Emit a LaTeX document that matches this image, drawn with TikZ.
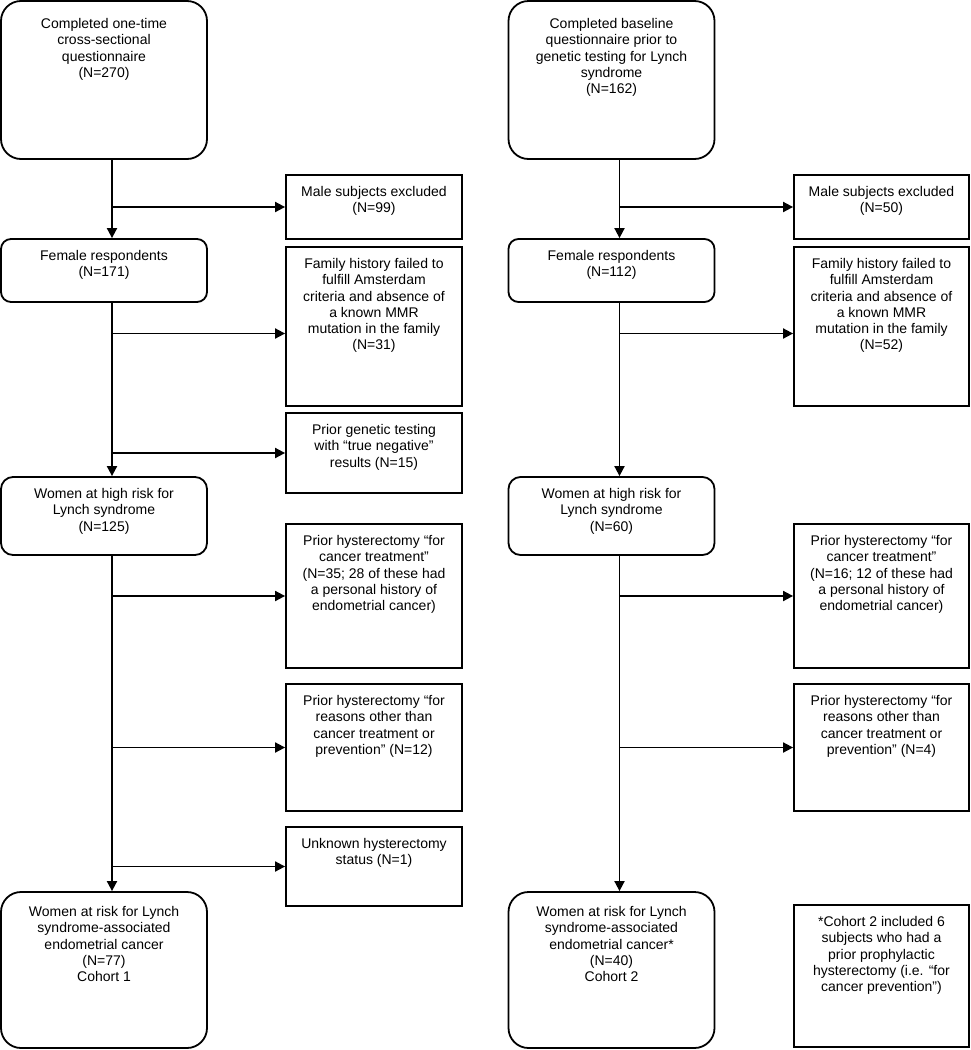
\documentclass[tikz,border=0pt]{standalone}
\usepackage{fontspec}
\setmainfont{Liberation Sans}
\usepackage{tikz}
\usetikzlibrary{arrows.meta,positioning}

\tikzset{
  stage/.style={draw, line width=1.8pt, rounded corners=#1, inner sep=0pt},
  side/.style={draw, line width=1.8pt, inner sep=0pt},
  boxtext/.style={anchor=north, align=center, inner sep=0pt, yshift=-12pt,
    font=\fontsize{14}{16.3}\selectfont},
  flow/.style={line width=1.8pt, -{Triangle[length=10pt,width=10pt]}},
}

\begin{document}
\begin{tikzpicture}[x=1pt,y=-1pt]
  \useasboundingbox (0,0) rectangle (970,1050);
  % cohort 1 (left)
  \node[stage=20pt, minimum width=206pt, minimum height=158pt,
    label={[boxtext,yshift=-6pt]north:Completed one-time\\cross-sectional\\questionnaire\\(N=270)}] (q1) at (104,80) {};
  \node[stage=10pt, minimum width=206pt, minimum height=63pt,
    label={[boxtext]north:Female respondents\\(N=171)}] (fem1) at (104,270.5) {};
  \node[stage=12pt, minimum width=206pt, minimum height=78pt,
    label={[boxtext]north:Women at high risk for\\Lynch syndrome\\(N=125)}] (high1) at (104,516) {};
  \node[stage=20pt, minimum width=206pt, minimum height=156pt,
    label={[boxtext,yshift=-3pt]north:Women at risk for Lynch\\syndrome-associated\\endometrial cancer\\(N=77)\\Cohort 1}] (coh1) at (104,970) {};
  % exclusions, cohort 1
  \node[side, minimum width=176pt, minimum height=64pt,
    label={[boxtext]north:Male subjects excluded\\(N=99)}] (male1) at (374,207) {};
  \node[side, minimum width=176pt, minimum height=159pt,
    label={[boxtext]north:Family history failed to\\fulfill Amsterdam\\criteria and absence of\\a known MMR\\mutation in the family\\(N=31)}] (fam1) at (374,326.5) {};
  \node[side, minimum width=176pt, minimum height=80pt,
    label={[boxtext]north:Prior genetic testing\\with “true negative”\\results (N=15)}] (gen1) at (374,453) {};
  \node[side, minimum width=176pt, minimum height=144pt,
    label={[boxtext]north:Prior hysterectomy “for\\cancer treatment”\\(N=35; 28 of these had\\a personal history of\\endometrial cancer)}] (ctx1) at (374,596) {};
  \node[side, minimum width=176pt, minimum height=127pt,
    label={[boxtext]north:Prior hysterectomy “for\\reasons other than\\cancer treatment or\\prevention” (N=12)}] (oth1) at (374,747.5) {};
  \node[side, minimum width=176pt, minimum height=79pt,
    label={[boxtext]north:Unknown hysterectomy\\status (N=1)}] (unk1) at (374,866.5) {};

  % cohort 2 (right)
  \node[stage=20pt, minimum width=206pt, minimum height=158pt,
    label={[boxtext,yshift=-6pt]north:Completed baseline\\questionnaire prior to\\genetic testing for Lynch\\syndrome\\(N=162)}] (q2) at (611.5,80) {};
  \node[stage=10pt, minimum width=206pt, minimum height=63pt,
    label={[boxtext]north:Female respondents\\(N=112)}] (fem2) at (611.5,270.5) {};
  \node[stage=12pt, minimum width=206pt, minimum height=78pt,
    label={[boxtext]north:Women at high risk for\\Lynch syndrome\\(N=60)}] (high2) at (611.5,516) {};
  \node[stage=20pt, minimum width=206pt, minimum height=156pt,
    label={[boxtext,yshift=-3pt]north:Women at risk for Lynch\\syndrome-associated\\endometrial cancer*\\(N=40)\\Cohort 2}] (coh2) at (611.5,970) {};
  % exclusions, cohort 2
  \node[side, minimum width=175pt, minimum height=64pt,
    label={[boxtext]north:Male subjects excluded\\(N=50)}] (male2) at (881.5,207) {};
  \node[side, minimum width=175pt, minimum height=159pt,
    label={[boxtext]north:Family history failed to\\fulfill Amsterdam\\criteria and absence of\\a known MMR\\mutation in the family\\(N=52)}] (fam2) at (881.5,326.5) {};
  \node[side, minimum width=175pt, minimum height=144pt,
    label={[boxtext]north:Prior hysterectomy “for\\cancer treatment”\\(N=16; 12 of these had\\a personal history of\\endometrial cancer)}] (ctx2) at (881.5,596) {};
  \node[side, minimum width=175pt, minimum height=127pt,
    label={[boxtext]north:Prior hysterectomy “for\\reasons other than\\cancer treatment or\\prevention” (N=4)}] (oth2) at (881.5,747.5) {};
  \node[side, minimum width=175pt, minimum height=142pt,
    label={[boxtext]north:*Cohort 2 included 6\\subjects who had a\\prior prophylactic\\hysterectomy (i.e. “for\\cancer prevention”)}] (note2) at (881.5,976) {};

  % trunks
  \coordinate (t1) at ([xshift=8pt]q1.south);
  \coordinate (t2) at ([xshift=8pt]q2.south);
  \coordinate (f1) at ([yshift=-7pt]fam1.west);
  \coordinate (f2) at ([yshift=-7pt]fam2.west);
  \draw[flow] (t1) -- (t1 |- fem1.north);
  \draw[flow] (t1 |- fem1.south) -- (t1 |- high1.north);
  \draw[flow] (t1 |- high1.south) -- (t1 |- coh1.north);
  \draw[flow] (t2) -- (t2 |- fem2.north);
  \draw[flow] (t2 |- fem2.south) -- (t2 |- high2.north);
  \draw[flow] (t2 |- high2.south) -- (t2 |- coh2.north);
  % branches
  \foreach \b in {male1,gen1,ctx1,oth1,unk1} {
    \draw[flow] (t1 |- \b.west) -- (\b.west);
  }
  \draw[flow] (t1 |- f1) -- (f1);
  \foreach \b in {male2,ctx2,oth2} {
    \draw[flow] (t2 |- \b.west) -- (\b.west);
  }
  \draw[flow] (t2 |- f2) -- (f2);
\end{tikzpicture}
\end{document}
